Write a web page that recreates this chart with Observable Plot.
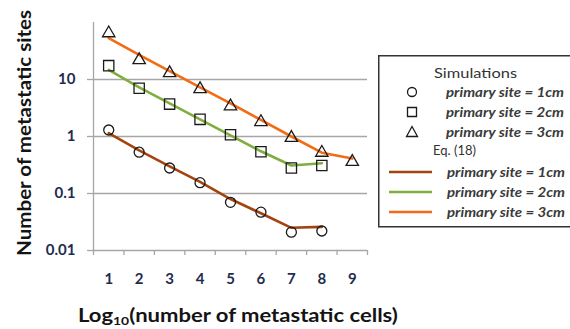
<!DOCTYPE html>
<html><head><meta charset="utf-8">
<script src="https://cdn.jsdelivr.net/npm/d3@7"></script>
<script src="https://cdn.jsdelivr.net/npm/@observablehq/plot@0.6"></script>
<style>
body{margin:0;background:#fff;overflow:hidden}
#wrap{position:relative;width:570px;height:329px;font-family:Lato,"Open Sans",sans-serif;overflow:hidden}
#wrap svg{position:absolute;left:0;top:0}
</style></head><body><div id="wrap"></div><script>
// ---- data ----
const xCats = [1, 2, 3, 4, 5, 6, 7, 8, 9];
const sim1cm = [1.3, 0.53, 0.28, 0.155, 0.070, 0.047, 0.021, 0.022];
const sim2cm = [17.5, 7.0, 3.7, 2.0, 1.07, 0.54, 0.28, 0.31];
const sim3cm = [65, 22, 13, 6.8, 3.4, 1.8, 0.95, 0.52, 0.36];
const eq1cm = [1.15, 0.57, 0.30, 0.16, 0.08, 0.045, 0.025, 0.026];
const eq2cm = [14.7, 7.3, 3.8, 2.0, 1.05, 0.55, 0.31, 0.34];
const eq3cm = [53, 27, 14, 7.3, 3.8, 1.95, 1.0, 0.52, 0.41];
const yTicks = [0.01, 0.1, 1, 10];
const seriesNames = ["primary site = 1cm", "primary site = 2cm", "primary site = 3cm"];
const symbols = ["circle", "square", "triangle"];
const lineColors = ["#a3440f", "#7fae3e", "#f36b12"];
const yTitle = "Number of metastatic sites";
const xTitleMain = "Log", xTitleSub = "10", xTitleRest = "(number of metastatic cells)";
const legendTitles = ["Simulations", "Eq. (18)"];

// ---- build tables ----
const toRows = (vals, s) => vals.map((v, i) => ({x: xCats[i], y: v, s}));
const simData = [sim1cm, sim2cm, sim3cm].flatMap((v, i) => toRows(v, i));
const eqData = [eq1cm, eq2cm, eq3cm].flatMap((v, i) => toRows(v, i));
const xBounds = [xCats[0] - 0.5, ...xCats.map(d => d + 0.5)];
const grid = "#a6a6a6";
const tickFill = "#1f2d4d";
const font = "Lato, 'Open Sans', sans-serif";

const chart = Plot.plot({
  width: 570, height: 329,
  marginLeft: 93, marginRight: 203, marginTop: 22, marginBottom: 79,
  style: {fontFamily: font, background: "transparent"},
  x: {type: "linear", domain: [xBounds[0], xBounds[xBounds.length - 1]]},
  y: {type: "log", domain: [0.01, 100]},
  marks: [
    Plot.gridY(yTicks.slice(1), {stroke: grid, strokeOpacity: 1, strokeWidth: 1.3}),
    Plot.ruleY([yTicks[0]], {stroke: grid, strokeWidth: 1.3}),
    Plot.ruleX([xBounds[0]], {stroke: grid, strokeWidth: 1.3}),
    Plot.axisY({ticks: yTicks, tickSize: 6, tickPadding: 12, tickFormat: d => String(d), stroke: grid, strokeWidth: 1.3, fill: tickFill, fontWeight: 700, fontSize: 15, label: null}),
    Plot.axisX({ticks: xBounds, tickSize: 5, tickFormat: () => "", stroke: grid, strokeWidth: 1.3, label: null}),
    Plot.axisX({ticks: xCats, tickSize: 0, tickPadding: 23, tickFormat: d => String(d), fill: tickFill, fontWeight: 700, fontSize: 15, label: null}),
    ...[0, 1, 2].map(i => Plot.line(eqData.filter(d => d.s === i), {x: "x", y: "y", stroke: lineColors[i], strokeWidth: 2.6})),
    ...[0, 1, 2].map(i => Plot.dot(simData.filter(d => d.s === i), {x: "x", y: "y", symbol: () => symbols[i], r: [5, 5.8, 4.6][i], stroke: "#1a1a1a", strokeWidth: 1.3, fill: "none"}))
  ]
});
const wrap = document.getElementById("wrap");
wrap.appendChild(chart);

// ---- overlay: axis titles + legend ----
const svgNS = "http://www.w3.org/2000/svg";
const ov = document.createElementNS(svgNS, "svg");
ov.setAttribute("width", 570); ov.setAttribute("height", 329);
ov.style.fontFamily = font;
wrap.appendChild(ov);
function el(tag, attrs, parent = ov) {
  const e = document.createElementNS(svgNS, tag);
  for (const k in attrs) e.setAttribute(k, attrs[k]);
  parent.appendChild(e);
  return e;
}
function txt(s, attrs, parent = ov) {
  const t = el("text", attrs, parent);
  t.textContent = s;
  return t;
}
// y title
txt(yTitle, {x: 0, y: 0, transform: "translate(31,133) rotate(-90)", "text-anchor": "middle",
  "font-size": 19, "font-weight": 700, fill: "#141414", textLength: 246, lengthAdjust: "spacingAndGlyphs"});
// x title
const xt = el("text", {x: 78, y: 322, "font-size": 19, "font-weight": 700, fill: "#141414"});
const s1 = el("tspan", {}, xt); s1.textContent = xTitleMain;
const s2 = el("tspan", {"font-size": 12, dy: 3}, xt); s2.textContent = xTitleSub;
const s3 = el("tspan", {dy: -3}, xt); s3.textContent = xTitleRest;
const tw = xt.getComputedTextLength();
if (tw > 0) xt.setAttribute("transform", `translate(78,0) scale(${320 / tw},1) translate(-78,0)`);

// legend box
el("rect", {x: 378.75, y: 55.75, width: 200, height: 171, fill: "#fff", stroke: "#333", "stroke-width": 1.5});
txt(legendTitles[0], {x: 434, y: 77.5, "font-size": 13, fill: "#333", textLength: 83, lengthAdjust: "spacingAndGlyphs"});
txt(legendTitles[1], {x: 433, y: 154.5, "font-size": 13, fill: "#333"});
const symPaths = {
  circle: "M4.5,0A4.5,4.5,0,1,1,-4.5,0A4.5,4.5,0,1,1,4.5,0Z",
  square: "M-4.5,-4.5h9v9h-9Z",
  triangle: "M0,-5.5L5.5,4.5L-5.5,4.5Z"
};
seriesNames.forEach((name, i) => {
  const ys = [92, 112, 132][i];
  el("path", {d: symPaths[symbols[i]], transform: `translate(412,${ys})`, fill: "none", stroke: "#1a1a1a", "stroke-width": 1.3});
  txt(name, {x: 446, y: ys + 4.5, "font-size": 12.5, "font-style": "italic", "font-weight": 700, fill: "#3a3a3a", textLength: 118, lengthAdjust: "spacingAndGlyphs"});
  const yl = [172, 192, 212][i];
  el("line", {x1: 389, x2: 432, y1: yl, y2: yl, stroke: lineColors[i], "stroke-width": 2.6});
  txt(name, {x: 447, y: yl + 4.5, "font-size": 12.5, "font-style": "italic", "font-weight": 700, fill: "#3a3a3a", textLength: 118, lengthAdjust: "spacingAndGlyphs"});
});
</script></body></html>
